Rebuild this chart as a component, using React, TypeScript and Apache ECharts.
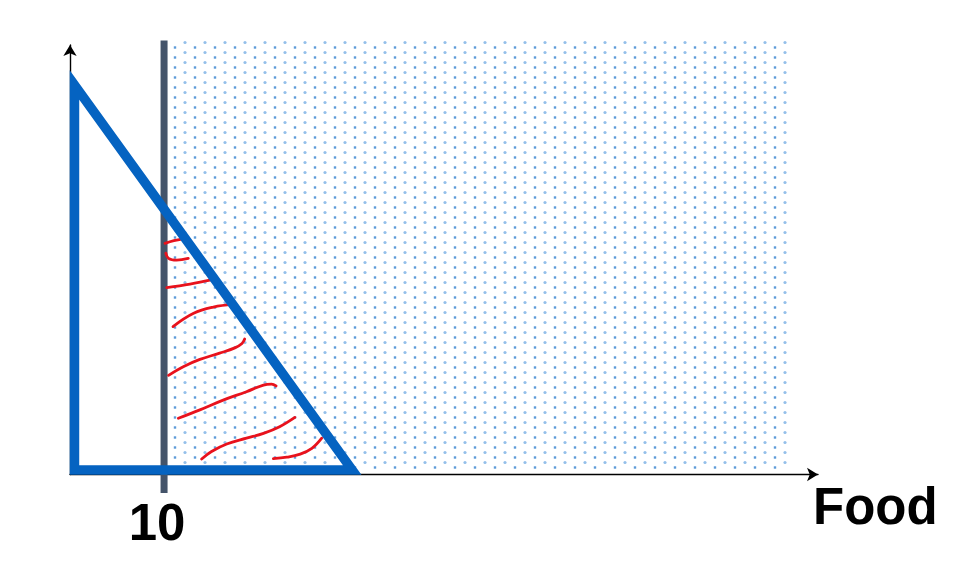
import React, { useEffect, useRef } from 'react';
import * as echarts from 'echarts';

// ---- data ----
const xAxisName = 'Food';
const xTickValues = [10];
const X_MIN = -0.5;
const X_MAX = 83;
const Y_MIN = -0.5;
const Y_MAX = 48;

// budget triangle vertices (x, y)
const budgetTriangle = [
  [0, 43.5],
  [0, 0],
  [31, 0],
];

// vertical constraint line at x = 10
const constraintX = 10;
const constraintSpan = [48.5, -2.6];

// dotted (feasible) region: [x0, y0, x1, y1]
const dottedRegion = [10, 0, 80, 48.5];

// red hand-drawn hatch strokes
const hatch1 = [[10.1, 25.6], [11.1, 25.9], [12.1, 26.1]];
const hatch2 = [[10.2, 24.5], [10.5, 23.9], [11.4, 23.7], [12.7, 23.9]];
const hatch3 = [[10.3, 20.6], [12.9, 21.0], [15.4, 21.5]];
const hatch4 = [[11.0, 16.2], [13.3, 17.7], [15.5, 18.4], [17.7, 18.7]];
const hatch5 = [[10.5, 10.7], [12.2, 11.7], [14.0, 12.5], [16.2, 13.2], [17.9, 13.8], [18.7, 14.3], [19.0, 14.8]];
const hatch6 = [[11.6, 5.85], [14.0, 6.8], [16.6, 7.9], [19.2, 8.85], [21.1, 9.6], [22.0, 9.7], [22.5, 9.5]];
const hatch7 = [[14.2, 1.25], [15.3, 2.1], [17.0, 2.95], [19.2, 3.6], [21.1, 4.15], [22.9, 4.9], [24.6, 5.95]];
const hatch8 = [[22.2, 1.3], [23.7, 1.45], [25.2, 1.8], [26.5, 2.45], [27.6, 3.6]];
const hatchStrokes = [hatch1, hatch2, hatch3, hatch4, hatch5, hatch6, hatch7, hatch8];

// ---- styles ----
const FONT = 'Liberation Sans, Arial, sans-serif';
const BLUE = '#0563C1';
const DARK = '#44546A';
const RED = '#E8121C';

const tileSvg =
  '<svg xmlns="http://www.w3.org/2000/svg" width="20" height="10">' +
  '<circle cx="5" cy="2.5" r="1.6" fill="#94bfea"/>' +
  '<rect x="13.8" y="6.3" width="2.4" height="2.4" fill="#5d9bd8"/>' +
  '</svg>';
const tileUrl = 'data:image/svg+xml;charset=utf-8,' + encodeURIComponent(tileSvg);

function buildOption(): any {
  const series: any[] = [];

  series.push({
    type: 'custom',
    name: 'region',
    z: 1,
    clip: false,
    silent: true,
    data: [dottedRegion],
    renderItem: (_p: any, api: any) => {
      const a = api.coord([api.value(0), api.value(3)]);
      const b = api.coord([api.value(2), api.value(1)]);
      return {
        type: 'rect',
        shape: { x: a[0], y: a[1], width: b[0] - a[0], height: b[1] - a[1] },
        style: {
          fill: {
            image: tileUrl,
            repeat: 'repeat',
            imageWidth: 20,
            imageHeight: 10,
            x: 2.3,
            y: 2.2,
          },
          stroke: null,
        },
      };
    },
  });

  series.push({
    type: 'custom',
    name: 'constraint',
    z: 2,
    clip: false,
    silent: true,
    data: [[constraintX, constraintSpan[0], constraintSpan[1]]],
    renderItem: (_p: any, api: any) => {
      const a = api.coord([api.value(0), api.value(1)]);
      const b = api.coord([api.value(0), api.value(2)]);
      return {
        type: 'line',
        shape: { x1: a[0], y1: a[1], x2: b[0], y2: b[1] },
        style: { stroke: DARK, lineWidth: 7 },
      };
    },
  });

  hatchStrokes.forEach((s, i) => {
    series.push({
      type: 'line',
      name: 'hatch' + i,
      z: 3,
      data: s,
      smooth: 0.4,
      symbol: 'none',
      silent: true,
      lineStyle: { color: RED, width: 2.8, cap: 'round' },
    });
  });

  series.push({
    type: 'custom',
    name: 'budget',
    z: 4,
    clip: false,
    silent: true,
    data: [budgetTriangle[1]],
    renderItem: (_p: any, api: any) => {
      const pts = budgetTriangle.map((p) => api.coord(p));
      return {
        type: 'polygon',
        shape: { points: pts },
        style: { fill: 'none', stroke: BLUE, lineWidth: 9.5, lineJoin: 'miter', miterLimit: 20 },
      };
    },
  });

  return {
    animation: false,
    backgroundColor: '#ffffff',
    textStyle: { fontFamily: FONT },
    grid: { left: 70, right: 144, top: 45, bottom: 96.5, outerBoundsMode: 'none', containLabel: false },
    xAxis: {
      type: 'value',
      min: X_MIN,
      max: X_MAX,
      name: xAxisName,
      nameLocation: 'end',
      nameGap: -5,
      nameTextStyle: {
        fontSize: 51,
        fontWeight: 'bold',
        color: '#000',
        fontFamily: FONT,
        align: 'left',
        verticalAlign: 'top',
        padding: [6, 0, 0, 0],
      },
      axisLine: {
        show: true,
        onZero: false,
        symbol: ['none', 'arrow'],
        symbolSize: [10, 11],
        lineStyle: { color: '#000', width: 1.4 },
      },
      axisTick: { show: false },
      splitLine: { show: false },
      axisLabel: {
        show: true,
        customValues: xTickValues,
        fontSize: 51,
        fontWeight: 'bold',
        color: '#000',
        fontFamily: FONT,
        margin: 22,
        padding: [0, 14, 0, 0],
      },
    },
    yAxis: {
      type: 'value',
      min: Y_MIN,
      max: Y_MAX,
      axisLine: {
        show: true,
        onZero: false,
        symbol: ['none', 'arrow'],
        symbolSize: [10, 11],
        lineStyle: { color: '#000', width: 1.4 },
      },
      axisTick: { show: false },
      splitLine: { show: false },
      axisLabel: { show: false },
    },
    series,
  };
}

export default function App() {
  const ref = useRef<HTMLDivElement>(null);
  useEffect(() => {
    if (!ref.current) return;
    const chart = echarts.init(ref.current, null, { renderer: 'svg' });
    chart.setOption(buildOption());
    return () => chart.dispose();
  }, []);
  return (
    <div
      ref={ref}
      style={{ position: 'absolute', left: 0, top: 0, width: 962, height: 571, background: '#fff' }}
    />
  );
}
